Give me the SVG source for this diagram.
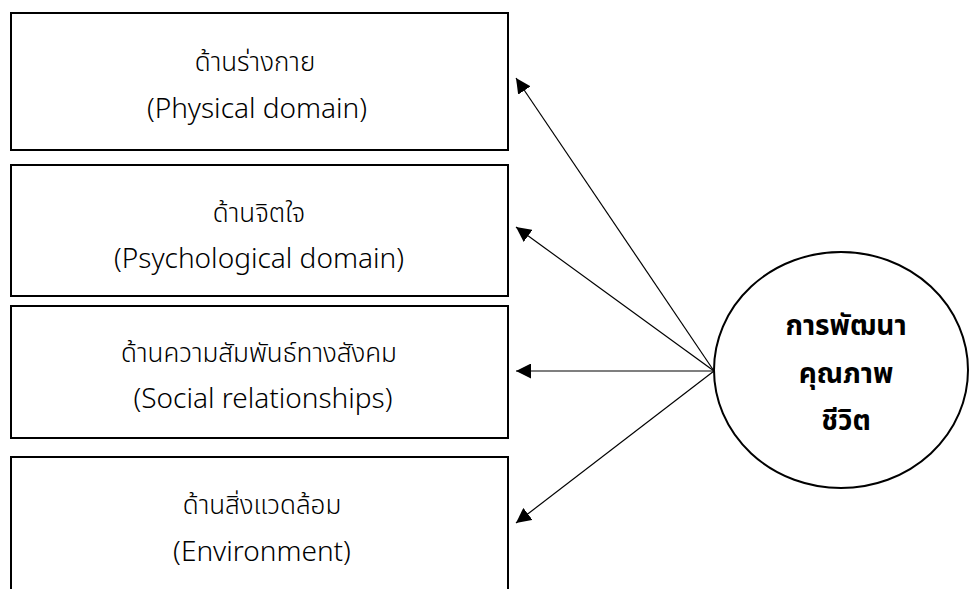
<svg xmlns="http://www.w3.org/2000/svg" width="970" height="589" viewBox="0 0 970 589">
  <style>
    .box { fill: #fff; stroke: #000; stroke-width: 2; }
    .hub { fill: #fff; stroke: #000; stroke-width: 2; }
    .lbl { font-family: "Noto Sans", "Noto Sans Thai", "Liberation Sans", sans-serif; font-size: 28px; font-weight: 300; fill: #000; text-anchor: middle; }
    .th { font-size: 26px; }
    .hubtxt { font-family: "Noto Sans", "Noto Sans Thai", "Liberation Sans", sans-serif; font-size: 28px; font-weight: bold; fill: #000; text-anchor: middle; }
    .link { stroke: #000; stroke-width: 1.2; fill: none; marker-end: url(#arrow); }
  </style>
  <defs>
    <marker id="arrow" viewBox="0 0 10 10" refX="10" refY="5" markerWidth="15" markerHeight="15" markerUnits="userSpaceOnUse" orient="auto">
      <path d="M0,0 L10,5 L0,10 z" fill="#000"/>
    </marker>
  </defs>
  <rect width="970" height="589" fill="#fff"/>

  <g id="physical">
    <rect class="box" x="11" y="13" width="497" height="137"/>
    <text class="lbl th" x="255" y="71">ด้านร่างกาย</text>
    <text class="lbl" x="257" y="118">(Physical domain)</text>
  </g>

  <g id="psychological">
    <rect class="box" x="11" y="165" width="497" height="131"/>
    <text class="lbl th" x="259" y="222">ด้านจิตใจ</text>
    <text class="lbl" x="259" y="268">(Psychological domain)</text>
  </g>

  <g id="social">
    <rect class="box" x="11" y="306" width="497" height="132"/>
    <text class="lbl th" x="259" y="362">ด้านความสัมพันธ์ทางสังคม</text>
    <text class="lbl" x="263" y="408">(Social relationships)</text>
  </g>

  <g id="environment">
    <rect class="box" x="11" y="457" width="497" height="140"/>
    <text class="lbl th" x="262" y="514">ด้านสิ่งแวดล้อม</text>
    <text class="lbl" x="262" y="561">(Environment)</text>
  </g>

  <g id="quality-of-life">
    <ellipse class="hub" cx="841" cy="370" rx="127" ry="118"/>
    <text class="hubtxt" x="846" y="335">การพัฒนา</text>
    <text class="hubtxt" x="846" y="383">คุณภาพ</text>
    <text class="hubtxt" x="846" y="430">ชีวิต</text>
  </g>

  <g id="connectors">
    <line class="link" x1="714" y1="371" x2="516" y2="78"/>
    <line class="link" x1="714" y1="371" x2="516" y2="227"/>
    <line class="link" x1="714" y1="371" x2="516" y2="371"/>
    <line class="link" x1="714" y1="371" x2="516" y2="523"/>
  </g>
</svg>
